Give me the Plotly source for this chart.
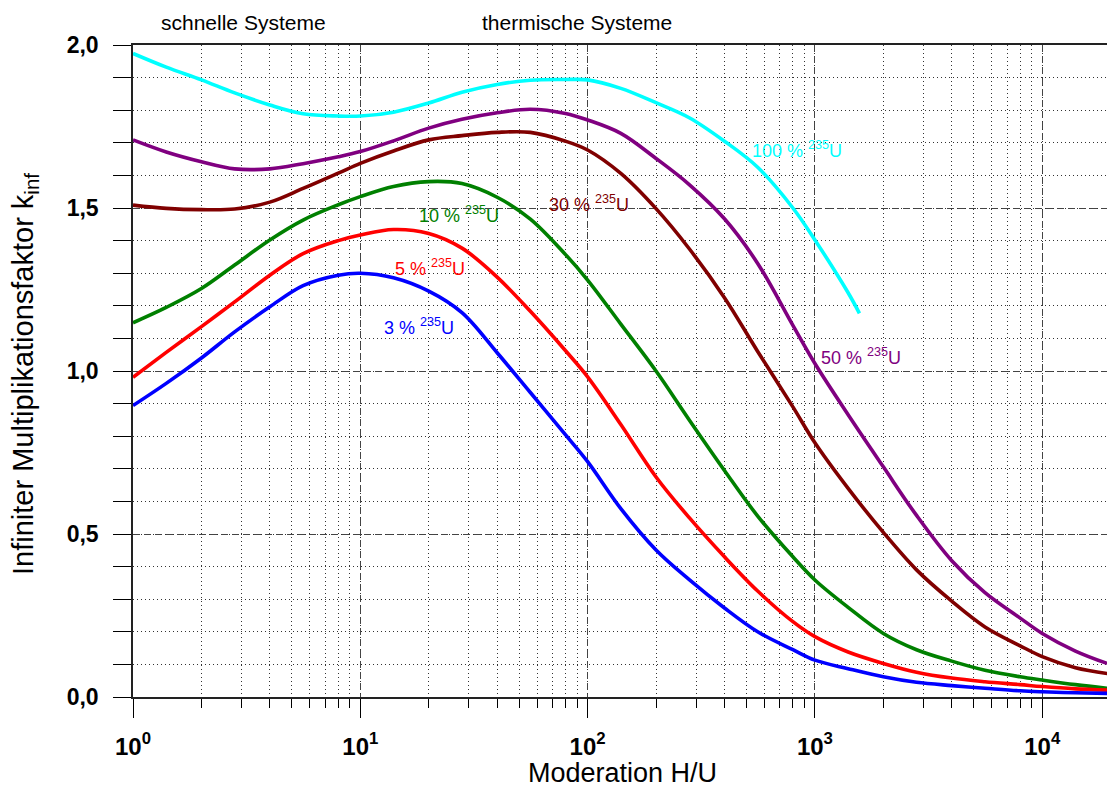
import plotly.graph_objects as go

# ---------------- data (H/U, k_inf) ----------------
hu = [1, 1.4, 2, 2.8, 4, 5.6, 8, 10, 14, 20, 28, 40, 56, 80, 100, 140, 200, 280, 400, 560, 800,
      1000, 1400, 2000, 2800, 4000, 5600, 8000, 10000, 14000, 19300]

x_100 = [1, 1.4, 2, 2.8, 4, 5.6, 8, 10, 14, 20, 28, 40, 56, 80, 100, 140, 200, 280, 400, 560, 800,
         1000, 1400, 1570]
k_100 = [1.974, 1.932, 1.893, 1.853, 1.816, 1.789, 1.782, 1.782, 1.794, 1.822, 1.855, 1.879, 1.892, 1.894,
         1.893, 1.867, 1.823, 1.777, 1.705, 1.625, 1.50, 1.402, 1.24, 1.177]

k_50 = [1.709, 1.672, 1.642, 1.620, 1.620, 1.636, 1.657, 1.673, 1.706, 1.745, 1.772, 1.792, 1.803, 1.790,
        1.770, 1.729, 1.652, 1.572, 1.467, 1.330, 1.140, 1.023, 0.866, 0.706, 0.557, 0.418, 0.320, 0.242,
        0.195, 0.141, 0.103]

k_30 = [1.509, 1.499, 1.495, 1.497, 1.518, 1.560, 1.607, 1.637, 1.675, 1.709, 1.722, 1.732, 1.732, 1.705,
        1.678, 1.606, 1.498, 1.375, 1.225, 1.060, 0.890, 0.780, 0.640, 0.505, 0.390, 0.294, 0.215, 0.157,
        0.124, 0.090, 0.072]

k_10 = [1.148, 1.195, 1.253, 1.325, 1.402, 1.463, 1.510, 1.535, 1.566, 1.581, 1.575, 1.533, 1.466, 1.357,
        1.279, 1.144, 1.000, 0.850, 0.695, 0.555, 0.430, 0.359, 0.275, 0.195, 0.145, 0.110, 0.082, 0.062,
        0.052, 0.038, 0.027]

k_5 = [0.981, 1.057, 1.136, 1.212, 1.294, 1.360, 1.400, 1.417, 1.434, 1.422, 1.377, 1.288, 1.183, 1.062,
       0.982, 0.836, 0.675, 0.550, 0.430, 0.325, 0.231, 0.185, 0.138, 0.103, 0.076, 0.058, 0.047, 0.038,
       0.032, 0.025, 0.021]

k_3 = [0.894, 0.962, 1.040, 1.120, 1.197, 1.262, 1.294, 1.300, 1.286, 1.245, 1.179, 1.056, 0.934, 0.804,
       0.722, 0.578, 0.451, 0.360, 0.273, 0.200, 0.145, 0.113, 0.087, 0.062, 0.045, 0.035, 0.027, 0.019,
       0.016, 0.013, 0.011]

series = [
    ("100 %", x_100, k_100, "#00FFFF"),
    ("50 %", hu, k_50, "#800080"),
    ("30 %", hu, k_30, "#800000"),
    ("10 %", hu, k_10, "#008000"),
    ("5 %", hu, k_5, "#FF0000"),
    ("3 %", hu, k_3, "#0000FF"),
]

# label positions (log10 H/U, k)
label_pos = {
    "100 %": (2.92, 1.678),
    "50 %": (3.203, 1.043),
    "30 %": (2.006, 1.515),
    "10 %": (1.434, 1.479),
    "5 %": (1.307, 1.319),
    "3 %": (1.258, 1.135),
}

x_tickvals = [1, 10, 100, 1000, 10000]
x_ticktext = ["10<sup>0</sup>", "10<sup>1</sup>", "10<sup>2</sup>", "10<sup>3</sup>", "10<sup>4</sup>"]
y_tickvals = [0.0, 0.5, 1.0, 1.5, 2.0]
y_ticktext = ["0,0", "0,5", "1,0", "1,5", "2,0"]

FONT = "Liberation Sans, Arial, sans-serif"

fig = go.Figure()
for name, xs, ks, col in series:
    fig.add_trace(go.Scatter(x=xs, y=ks, mode="lines", name=name,
                             line=dict(color=col, width=3.6, shape="spline", smoothing=1.0),
                             showlegend=False, hoverinfo="x+y"))

annotations = []
for name, xs, ks, col in series:
    lx, ly = label_pos[name]
    annotations.append(dict(x=lx, y=ly, xref="x", yref="y", text=f"{name} <sup>235</sup>U",
                            showarrow=False, font=dict(family=FONT, size=18, color=col),
                            xanchor="center", yanchor="middle"))

top_y = (697 - 23) / 652
annotations += [
    dict(x=0.484, y=top_y, xref="x", yref="paper", text="schnelle Systeme", showarrow=False,
         font=dict(family=FONT, size=21, color="black"), xanchor="center", yanchor="middle"),
    dict(x=1.953, y=top_y, xref="x", yref="paper", text="thermische Systeme", showarrow=False,
         font=dict(family=FONT, size=21, color="black"), xanchor="center", yanchor="middle"),
    dict(x=(622 - 133) / 974, y=(697 - 773) / 652, xref="paper", yref="paper", text="Moderation H/U",
         showarrow=False, font=dict(family=FONT, size=27, color="black"), xanchor="center", yanchor="middle"),
    dict(x=(25 - 133) / 974, y=(697 - 374) / 652, xref="paper", yref="paper",
         text="Infiniter Multiplikationsfaktor k<sub>inf</sub>", textangle=-90,
         showarrow=False, font=dict(family=FONT, size=29, color="black"), xanchor="center", yanchor="middle"),
]

xrange = [0, 4.285]

fig.update_layout(
    width=1107, height=790,
    margin=dict(l=133, r=0, t=45, b=93),
    paper_bgcolor="white", plot_bgcolor="white",
    font=dict(family=FONT, color="black"),
    annotations=annotations,
    xaxis=dict(
        type="log", range=xrange,
        tickvals=x_tickvals, ticktext=x_ticktext,
        tickfont=dict(family=FONT, size=24, color="black", weight="bold"),
        ticks="outside", ticklen=19, tickwidth=1, tickcolor="black",
        ticklabelstandoff=8,
        showline=True, linecolor="#222", linewidth=1.5, mirror=True,
        showgrid=True, gridcolor="#444", gridwidth=1, griddash="7px,4px",
        zeroline=False,
        minor=dict(dtick="D1", ticks="outside", ticklen=9, tickwidth=1, tickcolor="black",
                   showgrid=True, gridcolor="#333", gridwidth=1, griddash="1px,3px"),
    ),
    xaxis2=dict(
        type="log", range=xrange, overlaying="x", anchor="y", side="bottom",
        tickvals=x_tickvals, ticks="inside", ticklen=10, tickwidth=1, tickcolor="black",
        showticklabels=False, showgrid=False, showline=False, zeroline=False,
        minor=dict(dtick="D1", ticks="inside", ticklen=10, tickwidth=1, tickcolor="black", showgrid=False),
    ),
    yaxis=dict(
        range=[0, 2.0],
        tickvals=y_tickvals, ticktext=y_ticktext,
        tickfont=dict(family=FONT, size=23, color="black", weight="bold"),
        ticks="outside", ticklen=18, tickwidth=1, tickcolor="black",
        ticklabelstandoff=10,
        showline=True, linecolor="#222", linewidth=1.5,
        showgrid=True, gridcolor="#444", gridwidth=1, griddash="7px,4px",
        zeroline=False,
        minor=dict(dtick=0.1, ticks="outside", ticklen=18, tickwidth=1, tickcolor="black",
                   showgrid=True, gridcolor="#333", gridwidth=1, griddash="1px,3px"),
    ),
)

fig.write_html("out.html")
